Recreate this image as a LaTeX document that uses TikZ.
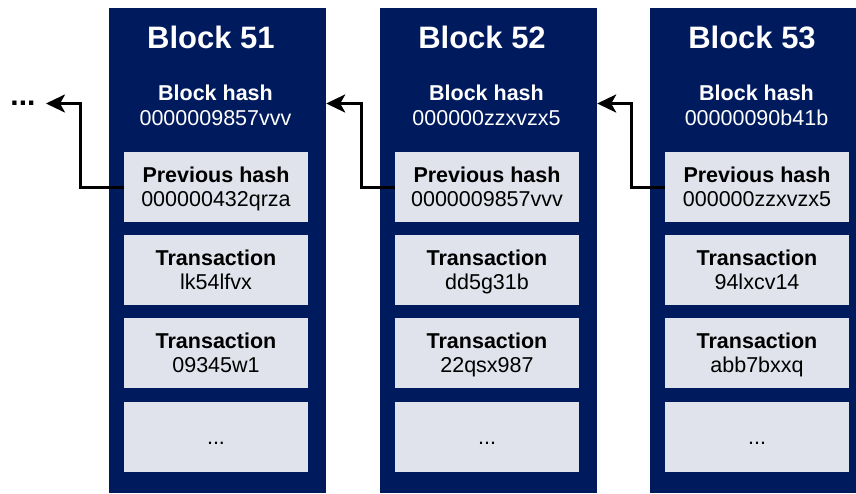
\documentclass[tikz,border=0pt]{standalone}
\usepackage{fontspec}
\setmainfont{Liberation Sans}
\usetikzlibrary{arrows.meta}
\definecolor{navy}{HTML}{001A5E}
\definecolor{cellgray}{HTML}{E0E3EC}
% the second line of a two-line label does not take part in vertical centring
\newcommand{\lowline}[1]{\smash{#1}}
\tikzset{
  blockbox/.style={fill=navy, draw=none, minimum width=217pt, minimum height=485pt, inner sep=0pt},
  cell/.style={fill=cellgray, draw=none, minimum width=184pt, minimum height=70pt, inner sep=0pt,
               align=center, text=black, font=\fontsize{21.5}{24}\selectfont},
  blocktitle/.style={text=white, inner sep=0pt, font=\fontsize{31}{36}\selectfont\bfseries},
  hashlabel/.style={text=white, inner sep=0pt, align=center, font=\fontsize{21.5}{25}\selectfont},
  link/.style={line width=3pt, draw=black, -{Stealth[length=19pt,width=18pt,inset=5pt]}},
}
\begin{document}
\begin{tikzpicture}[x=1pt,y=-1pt]
\path[use as bounding box] (0,0) rectangle (856,493);
\clip (0,0) rectangle (856,493);
\fill[white] (0,0) rectangle (856,493);

% Block 51
\node[blockbox] (b51) at (217.5,250.5) {};
\node[blocktitle] (b51t) at (211,37.5) {Block 51};
\node[hashlabel] (b51h) at (215.5,105) {\textbf{Block hash}\\\lowline{0000009857vvv}};
\node[cell] (b51p) at (216,187) {\textbf{Previous hash}\\\lowline{000000432qrza}};
\node[cell] (b51a) at (216,270) {\textbf{Transaction}\\\lowline{lk54lfvx}};
\node[cell] (b51b) at (216,353) {\textbf{Transaction}\\\lowline{09345w1}};
\node[cell] (b51c) at (216,436.5) {\rule{0pt}{15pt}...};

% Block 52
\node[blockbox] (b52) at (488.5,250.5) {};
\node[blocktitle] (b52t) at (482,37.5) {Block 52};
\node[hashlabel] (b52h) at (486.5,105) {\textbf{Block hash}\\\lowline{000000zzxvzx5}};
\node[cell] (b52p) at (487,187) {\textbf{Previous hash}\\\lowline{0000009857vvv}};
\node[cell] (b52a) at (487,270) {\textbf{Transaction}\\\lowline{dd5g31b}};
\node[cell] (b52b) at (487,353) {\textbf{Transaction}\\\lowline{22qsx987}};
\node[cell] (b52c) at (487,436.5) {\rule{0pt}{15pt}...};

% Block 53
\node[blockbox] (b53) at (758.5,250.5) {};
\node[blocktitle] (b53t) at (752,37.5) {Block 53};
\node[hashlabel] (b53h) at (756.5,105) {\textbf{Block hash}\\\lowline{00000090b41b}};
\node[cell] (b53p) at (757,187) {\textbf{Previous hash}\\\lowline{000000zzxvzx5}};
\node[cell] (b53a) at (757,270) {\textbf{Transaction}\\\lowline{94lxcv14}};
\node[cell] (b53b) at (757,353) {\textbf{Transaction}\\\lowline{abb7bxxq}};
\node[cell] (b53c) at (757,436.5) {\rule{0pt}{15pt}...};

% earlier blocks
\node[anchor=base, inner sep=0pt, font=\fontsize{30}{36}\selectfont\bfseries] (more) at (23,105) {...};
\coordinate (moretip) at (46,103.5);

% previous-hash links
\draw[link] (b51p.west) -- ++(-43,0) |- (moretip);
\draw[link] (b52p.west) -- ++(-33,0) |- (b51.east |- moretip);
\draw[link] (b53p.west) -- ++(-33,0) |- (b52.east |- moretip);
\end{tikzpicture}
\end{document}
